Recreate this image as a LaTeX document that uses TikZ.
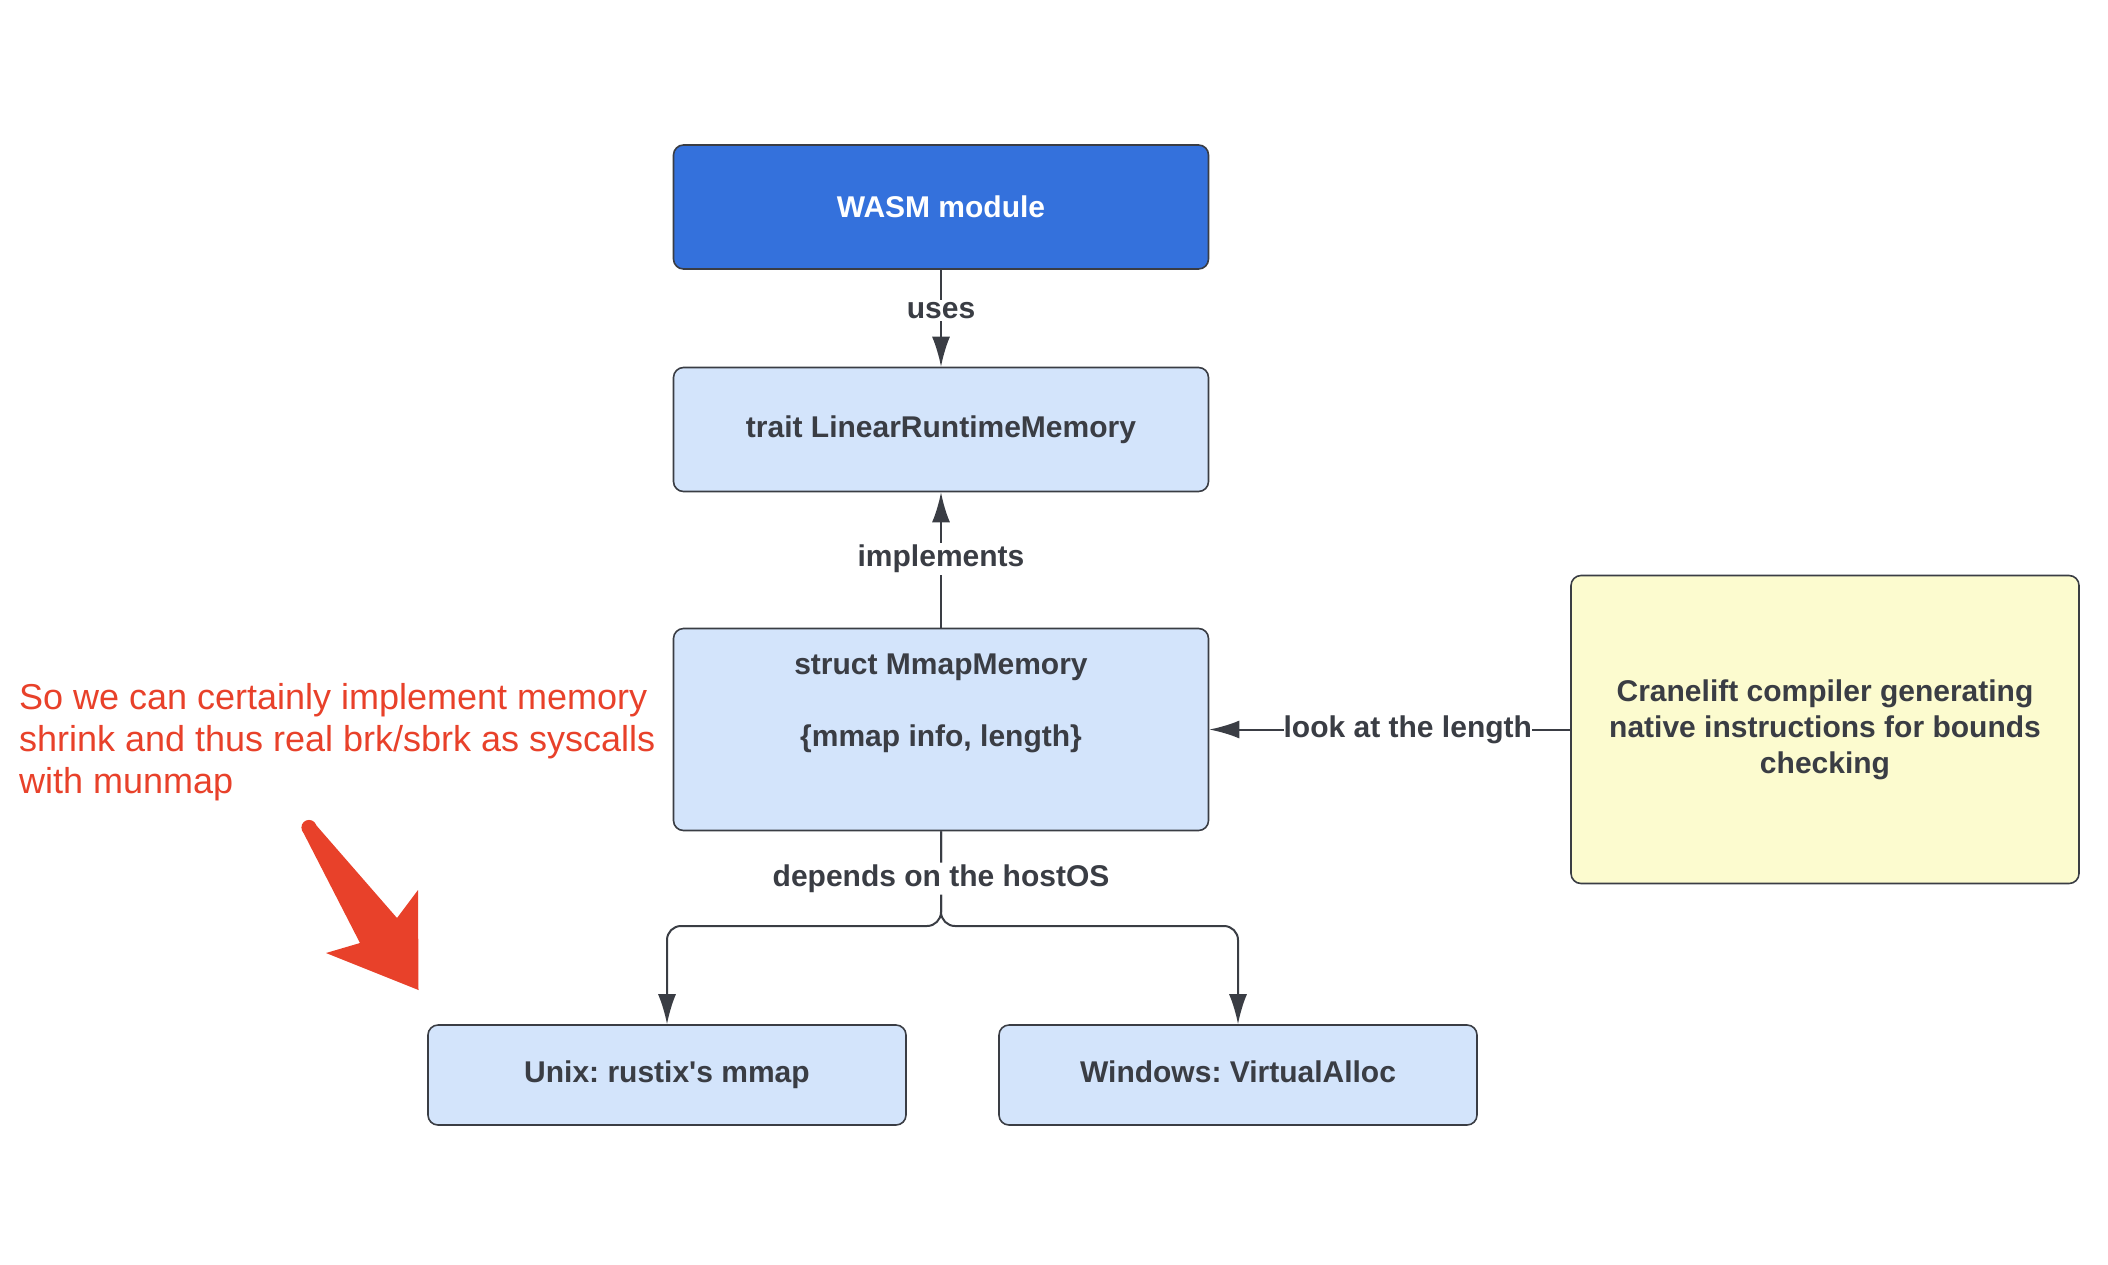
\documentclass[tikz,border=0pt]{standalone}
\usepackage{fontspec}
\setmainfont{Liberation Sans}
\usepackage{xcolor}
\usetikzlibrary{arrows.meta,calc,positioning}
\definecolor{wasmblue}{RGB}{52,113,220}
\definecolor{boxblue}{RGB}{211,228,251}
\definecolor{noteyellow}{RGB}{252,251,207}
\definecolor{edgegrey}{RGB}{58,61,68}
\definecolor{remarkred}{RGB}{232,65,42}
\newcommand{\boxfont}{\bfseries\fontsize{15}{18}\selectfont}
\frenchspacing

\begin{document}
\begin{tikzpicture}[x=0.5pt,y=-0.5pt,
  box/.style={draw=edgegrey,line width=0.8pt,rounded corners=5pt,fill=boxblue,text=edgegrey,
    font=\boxfont,align=center,minimum width=267.5pt,minimum height=62pt},
  osbox/.style={box,minimum width=239pt,minimum height=50pt,text depth=3.2pt},
  conn/.style={draw=edgegrey,line width=1pt,-{Latex[length=15pt,width=9pt]}},
  lbl/.style={fill=white,text=edgegrey,font=\boxfont,inner sep=1pt}]
  \useasboundingbox (0,0) rectangle (2108,1264);
  \node[box,fill=wasmblue,text=white] (W) at (941,207) {WASM module};
  \node[box] (T) at (941,429.5) {trait LinearRuntimeMemory};
  \node[box,minimum height=101pt] (M) at (941,729.5) {};
  \node[align=center,text=edgegrey,font=\boxfont] (Mtext) at (941,703) {struct MmapMemory\\[18pt]\{mmap info, length\}};
  \node[box,fill=noteyellow,minimum width=254pt,minimum height=154pt] (C) at (1825,729.5)
    {Cranelift compiler generating\\native instructions for bounds\\checking};
  \node[osbox] (U) at (667,1075) {Unix: rustix\textquotesingle s mmap};
  \node[osbox] (V) at (1238,1075) {Windows: VirtualAlloc};
  \coordinate (S) at (941,926);
  \draw[conn] (W) -- node[lbl,pos=0.42] {uses} (T);
  \draw[conn] (M) -- node[lbl,pos=0.51] {implements} (T);
  \draw[conn] (C) -- node[lbl,pos=0.45,inner xsep=0pt] {look at the length} (M);
  \draw[conn,rounded corners=7pt] (M) -- (S) -| (V.north);
  \draw[conn,rounded corners=7pt] (M) -- node[lbl] {depends on the hostOS} (S) -| (U.north);
  \node[anchor=west,align=left,text=remarkred,font=\fontsize{18}{21}\selectfont] (R) at (12,742)
    {So we can certainly implement memory\\shrink and thus real brk/sbrk as syscalls\\with munmap};
  \fill[remarkred] (302,830) -- (360,943) -- (326,953) -- (418.5,990) -- (418,890) -- (397,918) -- (316,825) -- cycle;
  \fill[remarkred] (309,827.5) circle (3.8pt);
\end{tikzpicture}
\end{document}
